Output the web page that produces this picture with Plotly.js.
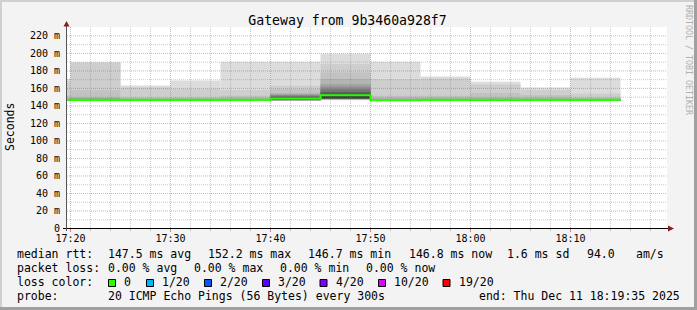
<!DOCTYPE html>
<html><head><meta charset="utf-8">
<script src="https://cdn.plot.ly/plotly-3.0.1.min.js"></script>
<style>html,body{margin:0;padding:0;background:#f3f3f3;} #chart{width:697px;height:310px;}</style>
</head><body><div id="chart"></div>
<script>
// ---------------- data ----------------
const day = '2025-12-11';
const intervalStarts = ['17:15','17:20','17:25','17:30','17:35','17:40','17:45','17:50','17:55','18:00','18:05','18:10'];
const intervalEnd = '18:15';
const stepMinutes = 5;
const medianRtt = [146.8, 146.8, 146.8, 146.8, 146.8, 148.5, 152.2, 146.7, 146.8, 146.8, 146.8, 146.8];
// 20 sorted pings (ms) per interval
const pings = [
  [145.6,145.8,146.0,146.2,146.3,146.4,146.5,146.6,146.7,146.7, 146.9,147.1,147.3,147.6,148.0,148.5,149.0,152.0,168.0,171.0],
  [145.5,145.7,145.9,146.1,146.2,146.3,146.4,146.5,146.6,146.7, 146.9,147.1,147.4,147.8,148.3,149.0,150.0,158.0,189.6,190.0],
  [145.5,145.7,145.9,146.1,146.2,146.3,146.4,146.5,146.6,146.7, 146.9,147.1,147.3,147.5,147.8,148.2,148.8,150.0,161.0,163.3],
  [145.5,145.7,145.9,146.1,146.2,146.3,146.4,146.5,146.6,146.7, 146.9,147.1,147.3,147.5,147.8,148.3,149.0,150.0,159.5,169.1],
  [145.5,145.7,145.9,146.1,146.2,146.3,146.4,146.5,146.6,146.7, 146.9,147.1,147.3,147.5,147.9,148.5,149.5,151.7,158.3,190.4],
  [145.6,145.8,146.0,146.2,146.4,146.6,146.8,147.0,147.5,148.0, 149.2,149.8,150.5,151.5,152.4,153.5,154.7,159.3,163.0,190.4],
  [146.5,147.0,147.3,147.5,147.7,147.9,148.0,148.2,148.5,149.0, 152.5,154.0,156.2,159.3,162.2,165.0,170.7,178.2,187.8,199.5],
  [145.5,145.7,145.9,146.1,146.2,146.3,146.4,146.5,146.6,146.7, 146.9,147.1,147.3,147.6,148.0,148.5,149.5,151.7,170.7,190.4],
  [145.5,145.7,145.9,146.1,146.2,146.3,146.4,146.5,146.6,146.7, 146.9,147.1,147.3,147.6,148.0,148.5,149.5,151.7,171.4,173.5],
  [145.5,145.7,145.9,146.1,146.2,146.3,146.4,146.5,146.6,146.7, 146.9,147.1,147.3,147.6,148.0,148.8,150.0,154.7,164.6,167.6],
  [145.5,145.7,145.9,146.1,146.2,146.3,146.4,146.5,146.6,146.7, 146.9,147.1,147.3,147.6,148.0,148.5,149.5,152.4,158.2,161.1],
  [145.5,145.7,145.9,146.1,146.2,146.3,146.4,146.5,146.6,146.7, 146.9,147.1,147.3,147.5,147.8,148.2,148.8,150.0,154.3,172.1]
];
const smokeShades = ['#dcdcdc','#cecece','#c2c2c2','#b4b4b4','#a4a4a4','#909090','#7a7a7a','#606060','#4a4a4a','#363636'];
const yTickVals = [0,20,40,60,80,100,120,140,160,180,200,220];
const yTickText = ['0','20 m','40 m','60 m','80 m','100 m','120 m','140 m','160 m','180 m','200 m','220 m'];
const lossColors = ['#26ff00','#00b8ff','#0059ff','#5e00ff','#7e00ff','#dd00ff','#ff0000'];
const lossLabels = ['0','1/20','2/20','3/20','4/20','10/20','19/20'];
const statsLine1 = ['median rtt:','147.5 ms avg','152.2 ms max','146.7 ms min','146.8 ms now','1.6 ms sd','94.0','am/s'];
const statsLine2 = ['packet loss:','0.00 % avg','0.00 % max','0.00 % min','0.00 % now'];
const probeText = ['probe:','20 ICMP Echo Pings (56 Bytes) every 300s','end: Thu Dec 11 18:19:35 2025'];
const titleText = 'Gateway from 9b3460a928f7';

// ---------------- layout helpers ----------------
const W = 697, H = 310, L = 67, T = 27, PW = 600, PH = 201;
const px = x => (x - L) / PW;
const py = y => (T + PH - y) / PH;
const MONO = 'DejaVu Sans Mono';
const t = hm => day + ' ' + hm + ':00';
const hmAdd = (hm, m) => { let [h, mm] = hm.split(':').map(Number); let tot = h*60+mm+m; return String(Math.floor(tot/60)).padStart(2,'0')+':'+String(tot%60).padStart(2,'0'); };

// ---------------- traces ----------------
const traces = [];
const xs = intervalStarts.map(t);
for (let k = 0; k < 10; k++) {
  traces.push({
    type: 'bar', x: xs,
    base: pings.map(r => r[k]),
    y: pings.map(r => r[19 - k] - r[k]),
    width: stepMinutes * 60000, offset: 0,
    marker: { color: smokeShades[k], line: { width: 0 } },
    hoverinfo: 'skip', showlegend: false
  });
}
traces.push({
  type: 'scatter', mode: 'lines',
  x: xs.concat([t(intervalEnd)]),
  y: medianRtt.concat([medianRtt[medianRtt.length - 1]]),
  line: { color: lossColors[0], width: 2.2, shape: 'hv' },
  hoverinfo: 'skip', showlegend: false
});

// ---------------- shapes ----------------
const shapes = [];
const majorGrid = 'rgba(225,60,60,0.45)', minorGrid = 'rgba(128,128,128,0.4)';
for (let m = 0; m <= 58; m += 2) {
  const hm = hmAdd('17:20', m);
  shapes.push({ type: 'line', layer: 'above', xref: 'x', yref: 'paper', x0: t(hm), x1: t(hm), y0: 0, y1: 1,
    line: { color: m % 10 === 0 ? majorGrid : minorGrid, width: 1, dash: '1px,1px' } });
}
for (let v = 10; v <= 220; v += 10) {
  shapes.push({ type: 'line', layer: 'above', xref: 'paper', yref: 'y', x0: 0, x1: 1, y0: v, y1: v,
    line: { color: v % 20 === 0 ? majorGrid : minorGrid, width: 1, dash: '1px,1px' } });
}
// axes lines
shapes.push({ type: 'line', layer: 'above', xref: 'paper', yref: 'paper', x0: px(63), x1: px(669), y0: py(228.5), y1: py(228.5), line: { color: '#000', width: 1 } });
shapes.push({ type: 'line', layer: 'above', xref: 'paper', yref: 'paper', x0: px(66.5), x1: px(66.5), y0: py(231), y1: py(25), line: { color: '#555', width: 1 } });
// arrows
shapes.push({ type: 'path', layer: 'above', xref: 'paper', yref: 'paper',
  path: `M ${px(66.5)},${py(21)} L ${px(63.5)},${py(26.5)} L ${px(69.5)},${py(26.5)} Z`,
  fillcolor: '#8b1a1a', line: { width: 0 } });
shapes.push({ type: 'path', layer: 'above', xref: 'paper', yref: 'paper',
  path: `M ${px(674)},${py(228.5)} L ${px(668)},${py(225.5)} L ${px(668)},${py(231.5)} Z`,
  fillcolor: '#8b1a1a', line: { width: 0 } });
// frame
shapes.push({ type: 'rect', xref: 'paper', yref: 'paper', x0: px(0), x1: px(W), y0: py(0), y1: py(2), fillcolor: '#d0d0d0', line: { width: 0 } });
shapes.push({ type: 'rect', xref: 'paper', yref: 'paper', x0: px(0), x1: px(2), y0: py(0), y1: py(H), fillcolor: '#d0d0d0', line: { width: 0 } });
shapes.push({ type: 'rect', xref: 'paper', yref: 'paper', x0: px(W - 3), x1: px(W), y0: py(0), y1: py(H), fillcolor: '#a0a0a0', line: { width: 0 } });
shapes.push({ type: 'rect', xref: 'paper', yref: 'paper', x0: px(0), x1: px(W), y0: py(H - 3), y1: py(H), fillcolor: '#a0a0a0', line: { width: 0 } });

// ---------------- annotations ----------------
const ann = [];
const txt = (s, x, y, extra) => Object.assign({ text: s, xref: 'paper', yref: 'paper', x: px(x), y: py(y),
  xanchor: 'left', yanchor: 'middle', showarrow: false, borderpad: 0,
  font: { family: MONO, size: 11.5, color: '#000' } }, extra || {});
const l1x = [16, 107, 207, 307, 407.5, 506, 586, 635];
statsLine1.forEach((s, i) => ann.push(txt(s, l1x[i], 254.3)));
const l2x = [16, 107, 193.3, 279.3, 365];
statsLine2.forEach((s, i) => ann.push(txt(s, l2x[i], 268.3)));
ann.push(txt('loss color:', 16, 281.8));
const boxX = [108, 146, 204, 262, 319.5, 378, 442.5];
lossLabels.forEach((s, i) => {
  ann.push(txt(s, boxX[i] + 15, 281.8));
  shapes.push({ type: 'rect', xref: 'paper', yref: 'paper', x0: px(boxX[i] + 0.5), x1: px(boxX[i] + 7.5), y0: py(279.5), y1: py(286.5),
    fillcolor: lossColors[i], line: { color: '#000', width: 1 } });
});
const l4x = [16, 107, 478.3];
probeText.forEach((s, i) => ann.push(txt(s, l4x[i], 295.8)));
// zero tick label (zero lies on the axis line, just below the plotted range)
ann.push(txt(yTickText[0], 61, 228.3, { xanchor: 'right', font: { family: MONO, size: 10, color: '#000' } }));
ann.push({ text: 'Seconds', xref: 'paper', yref: 'paper', x: px(10), y: py(127), textangle: -90,
  xanchor: 'center', yanchor: 'middle', showarrow: false, font: { family: MONO, size: 11.5, color: '#000' } });
ann.push({ text: 'RRDTOOL / TOBI OETIKER', xref: 'paper', yref: 'paper', x: px(689), y: py(60), textangle: 90,
  xanchor: 'center', yanchor: 'middle', showarrow: false, font: { family: MONO, size: 8.3, color: '#b0b0b0' } });

// ---------------- layout ----------------
const layout = {
  width: W, height: H,
  margin: { l: L, r: W - L - PW, t: T, b: H - T - PH, pad: 0 },
  paper_bgcolor: '#f3f3f3', plot_bgcolor: '#ffffff',
  barmode: 'overlay', showlegend: false,
  title: { text: titleText, font: { family: MONO, size: 13.2, color: '#000' },
    x: 347.5 / W, xref: 'container', xanchor: 'center', y: 1 - 20 / H, yref: 'container', yanchor: 'middle' },
  xaxis: {
    type: 'date', range: [day + ' 17:19:39', day + ' 18:19:39'],
    tick0: t('17:20'), dtick: 600000, tickformat: '%H:%M',
    showgrid: false, zeroline: false, showline: false,
    ticks: 'outside', ticklen: 3, tickcolor: '#e08080', tickwidth: 1,
    ticklabelstandoff: -2,
    minor: { dtick: 120000, tick0: t('17:20'), ticks: 'outside', ticklen: 2, tickcolor: '#bbbbbb', showgrid: false },
    tickfont: { family: MONO, size: 10, color: '#000' }, fixedrange: true
  },
  yaxis: {
    range: [0.571, 230.15], tickvals: yTickVals.slice(1), ticktext: yTickText.slice(1),
    showgrid: false, zeroline: false, showline: false, ticks: '',
    ticklabelstandoff: 6,
    tickfont: { family: MONO, size: 10, color: '#000' }, fixedrange: true
  },
  shapes: shapes, annotations: ann
};
Plotly.newPlot('chart', traces, layout, { staticPlot: true, displayModeBar: false });
</script></body></html>
